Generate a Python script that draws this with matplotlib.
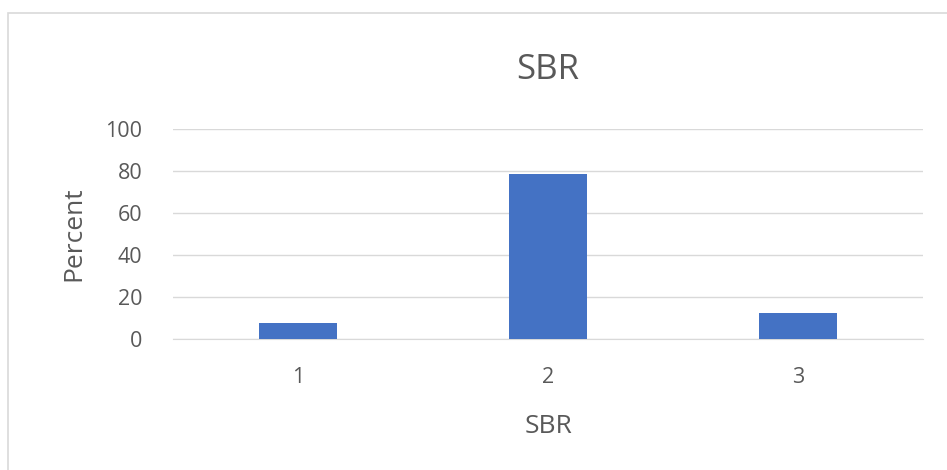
import matplotlib
matplotlib.use("Agg")
import matplotlib.pyplot as plt
from matplotlib.patches import Rectangle

# data
categories = ["1", "2", "3"]
percent = [7.8, 78.7, 12.5]
y_ticks = [0, 20, 40, 60, 80, 100]

plt.rcParams['font.family'] = ['Open Sans', 'DejaVu Sans']
text_col = '#595959'
grid_col = '#d9d9d9'

fig = plt.figure(figsize=(9.47, 4.7), dpi=100)
ax = fig.add_axes([173 / 947, 1 - 339 / 470, 750 / 947, 210 / 470])

# outer chart border like the spreadsheet chart area
fig.patches.append(Rectangle((8 / 947, -0.1), 1.2, (470 - 13) / 470 + 0.1,
                             transform=fig.transFigure, fill=False,
                             edgecolor='#d9d9d9', linewidth=1.2))

x = range(len(categories))
ax.bar(x, percent, width=0.31, color='#4472c4', zorder=3)

ax.set_xlim(-0.5, 2.5)
ax.set_ylim(0, 100)
ax.set_yticks(y_ticks)
ax.set_xticks(list(x))
ax.set_xticklabels(categories)
ax.grid(axis='y', color=grid_col, linewidth=1, zorder=0)
for s in ['top', 'right', 'left']:
    ax.spines[s].set_visible(False)
ax.spines['bottom'].set_color(grid_col)
ax.tick_params(axis='both', length=0, labelsize=15.5, colors=text_col)
ax.tick_params(axis='x', pad=20)
ax.tick_params(axis='y', pad=22)

ax.set_xlabel('SBR', fontsize=19, color=text_col, labelpad=19)
ax.set_ylabel('Percent', fontsize=19, color=text_col, labelpad=14)
ax.set_title('SBR', fontsize=25, color=text_col, pad=36)

fig.savefig('out.png', dpi=100)
